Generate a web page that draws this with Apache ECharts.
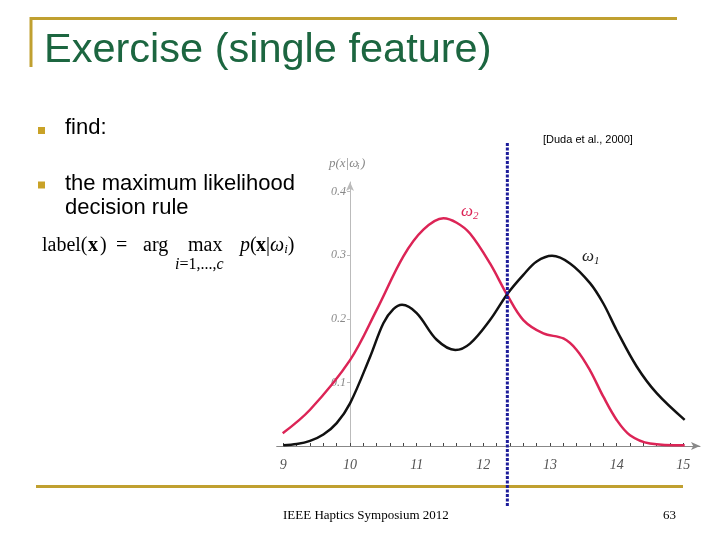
<!DOCTYPE html>
<html><head><meta charset="utf-8">
<script src="https://cdn.jsdelivr.net/npm/echarts@6/dist/echarts.min.js"></script>
<style>html,body{margin:0;padding:0;background:#fff}#c{width:720px;height:540px}</style>
</head><body><div id="c"></div>
<script>
// ---- data ----
const omega1X = [9.0, 9.2, 9.4, 9.6, 9.8, 10.0, 10.3, 10.5, 10.65, 10.78, 11.0, 11.3, 11.58, 11.8, 12.1, 12.36, 12.6, 12.8, 13.03, 13.3, 13.6, 13.8, 14.0, 14.3, 14.6, 15.02];
const omega1Y = [0.001, 0.003, 0.008, 0.018, 0.036, 0.067, 0.140, 0.193, 0.215, 0.222, 0.209, 0.167, 0.151, 0.161, 0.198, 0.239, 0.269, 0.290, 0.299, 0.287, 0.256, 0.224, 0.182, 0.125, 0.083, 0.041];
const omega2X = [8.99, 9.4, 10.0, 10.4, 10.8, 11.1, 11.4, 11.6, 11.8, 12.1, 12.36, 12.6, 12.9, 13.2, 13.4, 13.6, 13.8, 14.0, 14.2, 14.5, 15.02];
const omega2Y = [0.020, 0.057, 0.135, 0.214, 0.298, 0.340, 0.358, 0.351, 0.334, 0.287, 0.237, 0.198, 0.177, 0.169, 0.151, 0.119, 0.0775, 0.041, 0.017, 0.004, 0.001];
const decisionX = 12.36;
const xLabelValues = [9, 10, 11, 12, 13, 14, 15];
const xTickValues = [9, 9.2, 9.4, 9.6, 9.8, 10, 10.2, 10.4, 10.6, 10.8, 11, 11.2, 11.4, 11.6, 11.8, 12, 12.2, 12.4, 12.6, 12.8, 13, 13.2, 13.4, 13.6, 13.8, 14, 14.2, 14.4, 14.6, 14.8, 15];
const yLabelValues = [0.1, 0.2, 0.3, 0.4];

const chart = echarts.init(document.getElementById('c'), null, {renderer: 'canvas'});
const pair = (xs, ys) => xs.map((x, i) => [x, ys[i]]);
const serif = '"Liberation Serif", "DejaVu Serif", serif';
const sans = '"Liberation Sans", Arial, sans-serif';
const gold = '#c0a030';

const gridLeft = 276.7, gridWidth = 423.3;
const xMin = 8.9, xMax = 15.25;
const yAxisOffset = -((10 - xMin) / (xMax - xMin)) * gridWidth;

chart.setOption({
  animation: false,
  backgroundColor: '#fff',
  grid: {left: gridLeft, width: gridWidth, top: 182, height: 264},
  xAxis: {
    type: 'value', min: xMin, max: xMax,
    splitLine: {show: false},
    axisLine: {show: true, lineStyle: {color: '#888', width: 1}, symbol: ['none', 'arrow'], symbolSize: [6, 9]},
    axisTick: {show: true, inside: true, length: 3, lineStyle: {color: '#444'}, customValues: xTickValues},
    axisLabel: {customValues: xLabelValues, margin: 12, color: '#555', fontStyle: 'italic', fontFamily: serif, fontSize: 14}
  },
  yAxis: {
    type: 'value', min: 0, max: 0.415, offset: yAxisOffset,
    splitLine: {show: false},
    axisLine: {show: true, lineStyle: {color: '#bbb', width: 1}, symbol: ['none', 'arrow'], symbolSize: [6, 9]},
    axisTick: {show: true, length: 3, lineStyle: {color: '#bbb'}, customValues: yLabelValues},
    axisLabel: {customValues: yLabelValues, margin: 4, color: '#888', fontStyle: 'italic', fontFamily: serif, fontSize: 12,
      formatter: v => v.toFixed(1)}
  },
  series: [
    {name: 'ω2', type: 'line', data: pair(omega2X, omega2Y), smooth: 0.35, showSymbol: false,
      lineStyle: {color: '#dc2456', width: 2.5}, z: 3},
    {name: 'ω1', type: 'line', data: pair(omega1X, omega1Y), smooth: 0.35, showSymbol: false,
      lineStyle: {color: '#111', width: 2.5}, z: 4}
  ]
});

const dx = chart.convertToPixel({xAxisIndex: 0}, decisionX);

const graphics = [
  // slide frame lines
  {type: 'line', shape: {x1: 30, y1: 18.5, x2: 677, y2: 18.5}, style: {stroke: gold, lineWidth: 3}},
  {type: 'line', shape: {x1: 31, y1: 17, x2: 31, y2: 67}, style: {stroke: gold, lineWidth: 3}},
  {type: 'line', shape: {x1: 36, y1: 486.5, x2: 683, y2: 486.5}, style: {stroke: gold, lineWidth: 3}},
  // title
  {type: 'text', left: 44, top: 30, style: {text: 'Exercise (single feature)', fill: '#1c6640', font: '41.5px ' + sans}},
  // bullets
  {type: 'rect', shape: {x: 38, y: 127, width: 7, height: 7}, style: {fill: '#c9a227'}},
  {type: 'rect', shape: {x: 38, y: 181.5, width: 7, height: 7}, style: {fill: '#c9a227'}},
  {type: 'text', left: 65, top: 117, style: {text: 'find:', fill: '#000', font: '22px ' + sans}},
  {type: 'text', left: 65, top: 172, style: {text: 'the maximum likelihood\ndecision rule', fill: '#000', font: '22px ' + sans, lineHeight: 24}},
  // formula
  {type: 'text', left: 42, top: 236, style: {text: 'label(', fill: '#000', font: '20px ' + serif}},
  {type: 'text', left: 88, top: 236, style: {text: 'x', fill: '#000', font: 'bold 20px ' + serif}},
  {type: 'text', left: 100, top: 236, style: {text: ')', fill: '#000', font: '20px ' + serif}},
  {type: 'text', left: 116, top: 236, style: {text: '=', fill: '#000', font: '20px ' + serif}},
  {type: 'text', left: 143, top: 236, style: {text: 'arg', fill: '#000', font: '20px ' + serif}},
  {type: 'text', left: 188, top: 236, style: {text: 'max', fill: '#000', font: '20px ' + serif}},
  {type: 'text', left: 175, top: 257, style: {text: '{i|i}=1,...,{i|c}', fill: '#000', font: '16px ' + serif,
    rich: {i: {fontStyle: 'italic', fontFamily: serif, fontSize: 16}}}},
  {type: 'text', left: 240, top: 236, style: {text: '{i|p}(', fill: '#000', font: '20px ' + serif,
    rich: {i: {fontStyle: 'italic', fontFamily: serif, fontSize: 20}}}},
  {type: 'text', left: 256, top: 236, style: {text: '{b|x}|{i|ω}{s|i})', fill: '#000', font: '20px ' + serif,
    rich: {b: {fontWeight: 'bold', fontFamily: serif, fontSize: 20}, i: {fontStyle: 'italic', fontFamily: serif, fontSize: 20},
      s: {fontStyle: 'italic', fontFamily: serif, fontSize: 13, padding: [8, 0, 0, 0]}}}},
  // citation
  {type: 'text', left: 543, top: 134, style: {text: '[Duda et al., 2000]', fill: '#000', font: '11px ' + sans}},
  // axis title and curve labels
  {type: 'text', left: 329, top: 157, style: {text: 'p(x|ω', fill: '#888', font: 'italic 13px ' + serif}},
  {type: 'text', left: 357, top: 162, style: {text: 'i', fill: '#888', font: 'italic 9px ' + serif}},
  {type: 'text', left: 361, top: 157, style: {text: ')', fill: '#888', font: 'italic 13px ' + serif}},
  {type: 'text', left: 461, top: 203, style: {text: 'ω', fill: '#dc2456', font: 'italic 17px ' + serif}},
  {type: 'text', left: 473, top: 211, style: {text: '2', fill: '#dc2456', font: 'italic 11px ' + serif}},
  {type: 'text', left: 582, top: 248, style: {text: 'ω', fill: '#222', font: 'italic 17px ' + serif}},
  {type: 'text', left: 594, top: 256, style: {text: '1', fill: '#222', font: 'italic 11px ' + serif}},
  // decision boundary
  {type: 'line', shape: {x1: dx, y1: 143, x2: dx, y2: 507}, style: {stroke: '#1c1c9a', lineWidth: 3, lineDash: [3, 1.5]}, z: 10},
  // footer
  {type: 'text', left: 283, top: 509, style: {text: 'IEEE Haptics Symposium 2012', fill: '#000', font: '13px ' + serif}},
  {type: 'text', left: 663, top: 509, style: {text: '63', fill: '#000', font: '13px ' + serif}}
];
chart.setOption({graphic: graphics});
</script></body></html>
